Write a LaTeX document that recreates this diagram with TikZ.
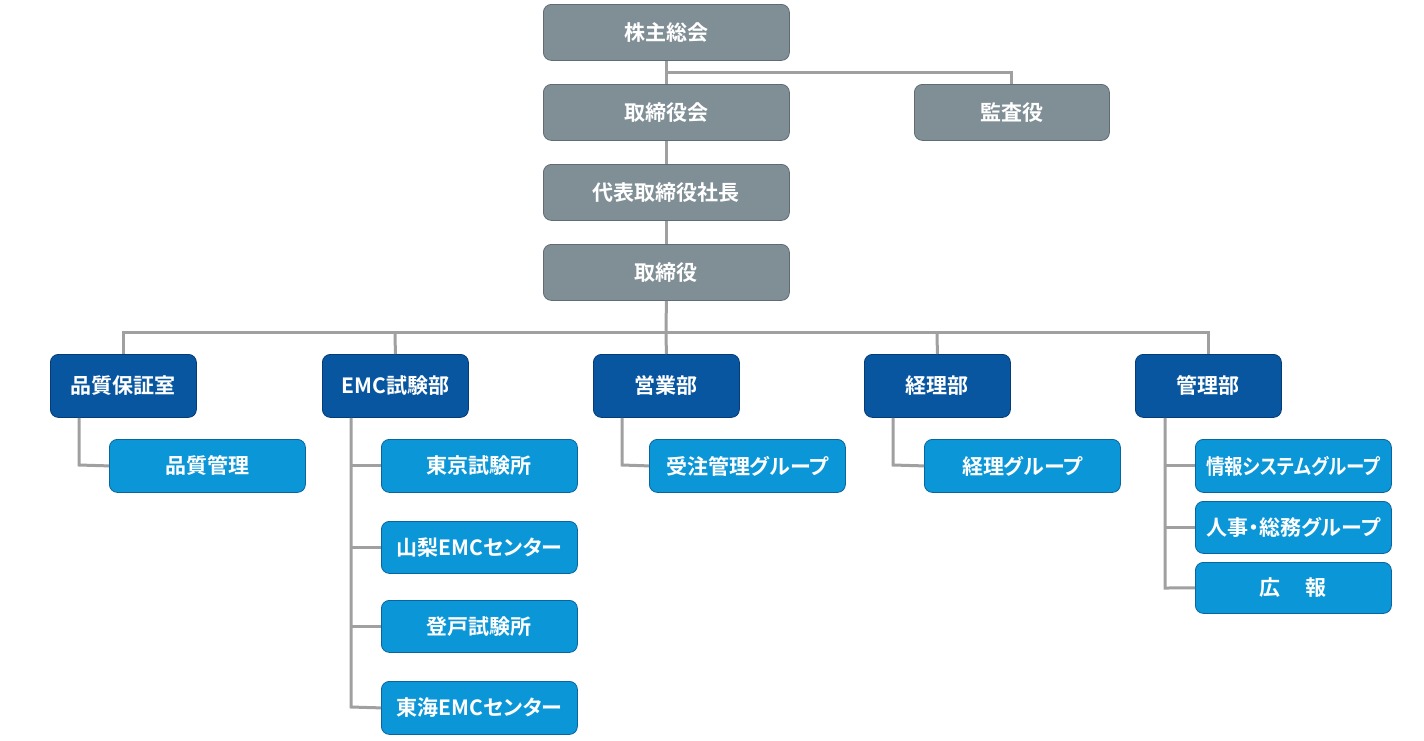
\documentclass[tikz,border=0pt]{standalone}
\usepackage{fontspec}
\usepackage{graphicx}
\newfontfamily\cjkb[RawFeature=+palt]{Noto Sans CJK JP Bold}
\definecolor{graybox}{RGB}{128,143,150}
\definecolor{grayedge}{RGB}{95,108,115}
\definecolor{darkblue}{RGB}{8,86,160}
\definecolor{darkedge}{RGB}{5,60,120}
\definecolor{lightblue}{RGB}{10,150,215}
\definecolor{lightedge}{RGB}{10,100,160}
\definecolor{linegray}{RGB}{160,160,160}
\tikzset{
  box/.style={rounded corners=8pt, line width=0.8pt, text=white,
    font=\cjkb\fontsize{21}{23}\selectfont, inner sep=0pt, anchor=north west},
  gbox/.style={box, draw=grayedge, fill=graybox},
  dbox/.style={box, draw=darkedge, fill=darkblue},
  lbox/.style={box, draw=lightedge, fill=lightblue},
  conn/.style={draw=linegray, line width=3pt}
}
\newcommand{\bx}[7]{% style, name, x1, y1, x2, y2, text
  \node[#1, minimum width=#5pt-#3pt, minimum height=#6pt-#4pt] (#2) at (#3,#4) {#7};}
\begin{document}
\begin{tikzpicture}[x=1pt,y=-1pt]
\useasboundingbox (0,0) rectangle (1424,740);
\coordinate (j1) at (666,72);
\coordinate (bus) at (666,332);
\coordinate (b2) at (395,332);
\coordinate (b4) at (937,332);
\coordinate (qe) at (79,465);
\coordinate (ee) at (351,707);
\coordinate (se) at (622,465);
\coordinate (ke) at (893,465);
\coordinate (me) at (1165,588);
% nodes
\bx{gbox}{sh}{543}{4}{789}{60}{株主総会}
\bx{gbox}{bd}{543}{84}{789}{140}{取締役会}
\bx{gbox}{ka}{914}{84}{1109}{140}{監査役}
\bx{gbox}{pr}{543}{164}{789}{220}{代表取締役社長}
\bx{gbox}{dr}{543}{244}{789}{300}{取締役}
\bx{dbox}{qa}{50}{354}{196}{417}{品質保証室}
\bx{dbox}{emc}{322}{354}{468}{417}{EMC試験部}
\bx{dbox}{eig}{593}{354}{739}{417}{営業部}
\bx{dbox}{kei}{864}{354}{1010}{417}{経理部}
\bx{dbox}{kan}{1135}{354}{1281}{417}{管理部}
\bx{lbox}{qm}{109}{439}{305}{492}{品質管理}
\bx{lbox}{tk}{381}{439}{577}{492}{東京試験所}
\bx{lbox}{ym}{381}{521}{577}{573}{山梨EMCセンター}
\bx{lbox}{nb}{381}{600}{577}{652}{登戸試験所}
\bx{lbox}{tkai}{381}{681}{577}{734}{東海EMCセンター}
\bx{lbox}{jc}{649}{439}{845}{492}{受注管理グループ}
\bx{lbox}{kg}{924}{439}{1120}{492}{経理グループ}
\bx{lbox}{js}{1195}{439}{1391}{492}{\scalebox{0.88}[1]{情報システムグループ}}
\bx{lbox}{jj}{1195}{501}{1391}{553}{人事・総務グループ}
\bx{lbox}{kh}{1195}{562}{1391}{613}{広\hspace{1.2em}報}
% connectors
\draw[conn] (sh.south) -- (bd.north);
\draw[conn] (j1) -- (j1 -| ka.north) -- (ka.north);
\draw[conn] (bd.south) -- (pr.north);
\draw[conn] (pr.south) -- (dr.north);
\draw[conn] (dr.south) -- (bus);
\draw[conn] (qa.north) -- (qa.north |- bus) -- (kan.north |- bus) -- (kan.north);
\draw[conn] (b2) -- (emc.north);
\draw[conn] (bus) -- (eig.north);
\draw[conn] (b4) -- (kei.north);
\draw[conn] (qa.south -| qe) -- (qe) -- (qm.west);
\draw[conn] (emc.south -| ee) -- (ee) -- (tkai.west);
\draw[conn] (ee |- tk.west) -- (tk.west);
\draw[conn] (ee |- ym.west) -- (ym.west);
\draw[conn] (ee |- nb.west) -- (nb.west);
\draw[conn] (eig.south -| se) -- (se) -- (jc.west);
\draw[conn] (kei.south -| ke) -- (ke) -- (kg.west);
\draw[conn] (kan.south -| me) -- (me) -- (kh.west);
\draw[conn] (me |- js.west) -- (js.west);
\draw[conn] (me |- jj.west) -- (jj.west);
\end{tikzpicture}
\end{document}
